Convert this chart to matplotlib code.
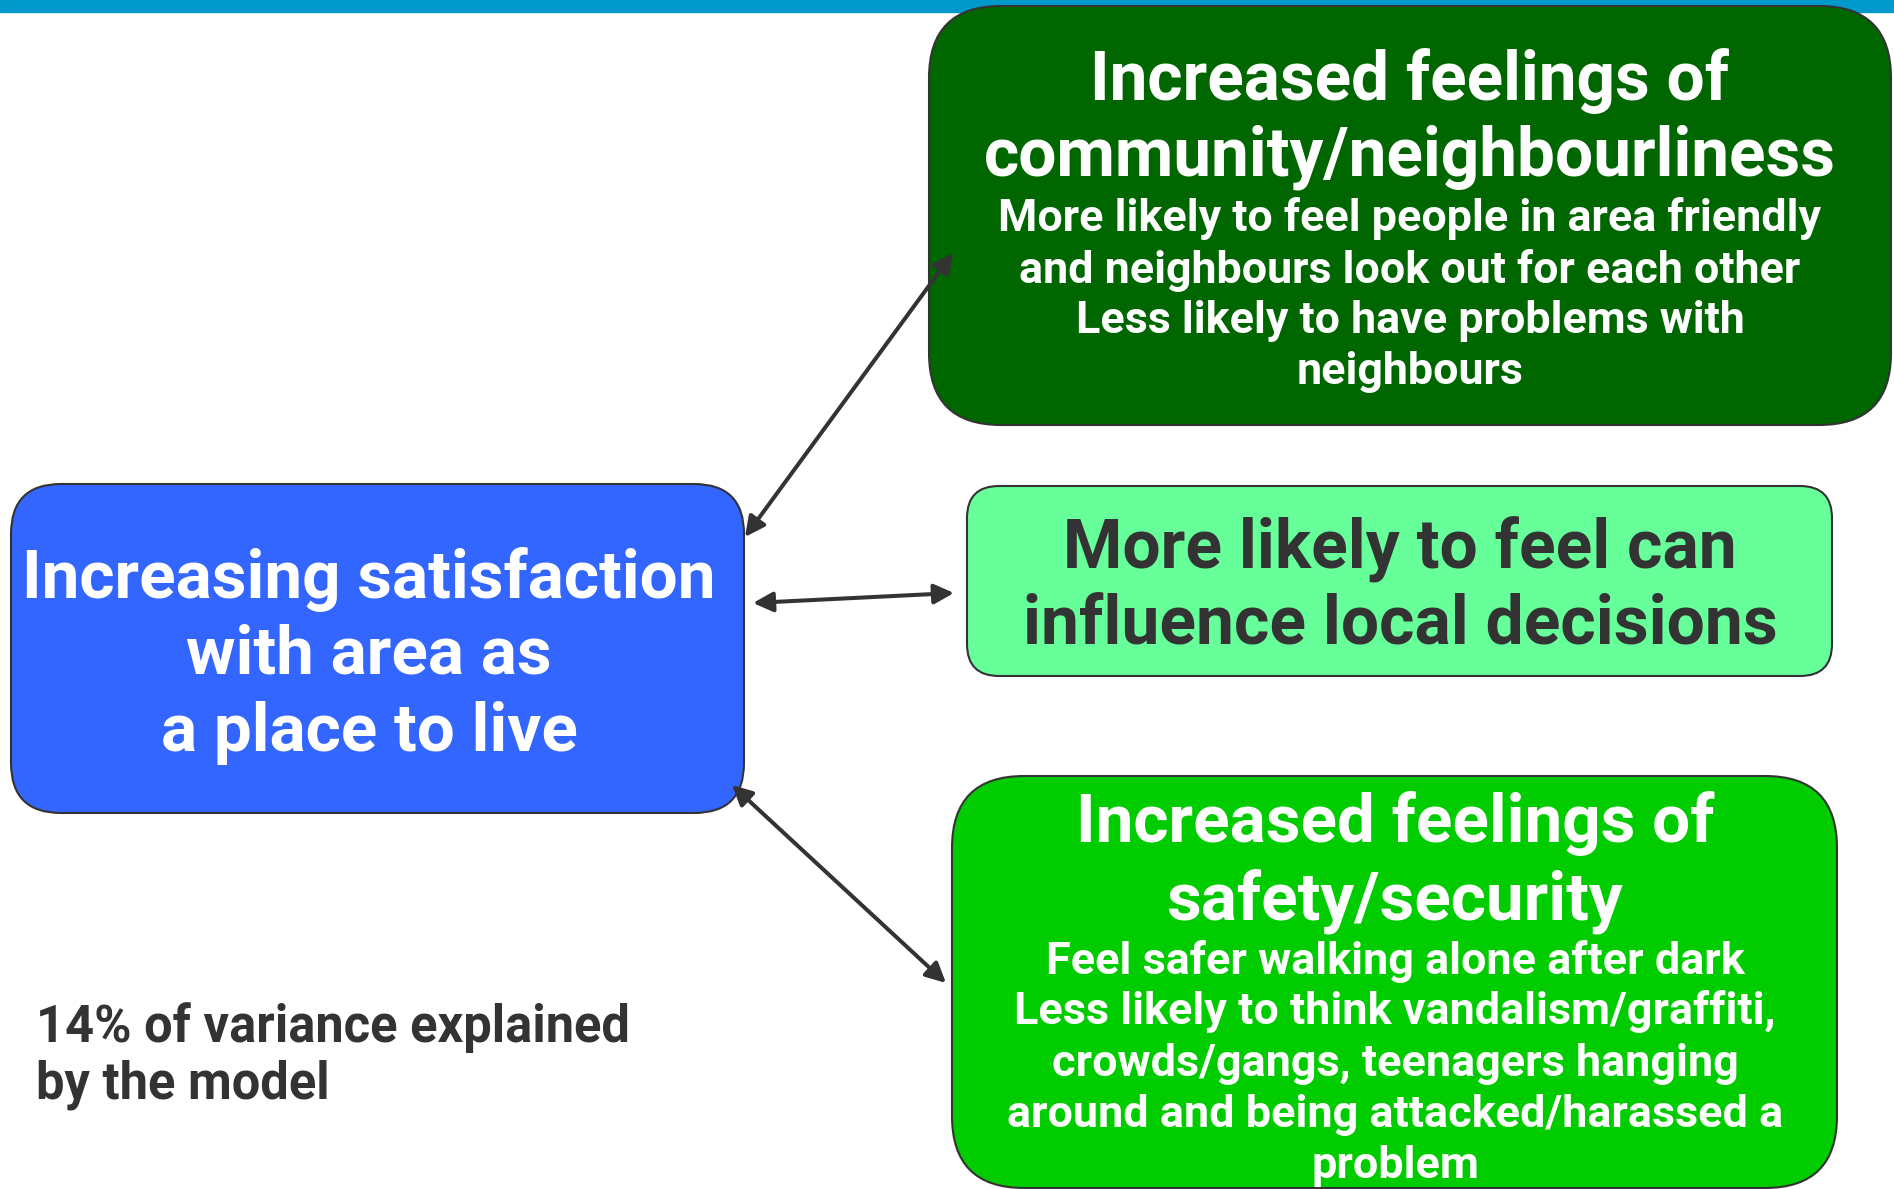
import matplotlib
matplotlib.use("Agg")
import matplotlib.pyplot as plt
from matplotlib.patches import FancyBboxPatch, Rectangle
from matplotlib import font_manager
from matplotlib.font_manager import FontProperties

# text content of the diagram
centre_lines = ["Increasing satisfaction", "with area as", "a place to live"]
community_title = ["Increased feelings of", "community/neighbourliness"]
community_sub = ["More likely to feel people in area friendly",
                 "and neighbours look out for each other",
                 "Less likely to have problems with",
                 "neighbours"]
influence_lines = ["More likely to feel can", "influence local decisions"]
safety_title = ["Increased feelings of", "safety/security"]
safety_sub = ["Feel safer walking alone after dark",
              "Less likely to think vandalism/graffiti,",
              "crowds/gangs, teenagers hanging",
              "around and being attacked/harassed a",
              "problem"]
note_lines = ["14% of variance explained", "by the model"]

# narrow font if installed, otherwise Roboto
try:
    font_manager.findfont(FontProperties(family="Liberation Sans Narrow", weight="bold"),
                          fallback_to_default=False)
    fam = "Liberation Sans Narrow"
except Exception:
    fam = "Roboto"

W, H = 1894, 1189
fig = plt.figure(figsize=(W / 100, H / 100), dpi=100)
ax = fig.add_axes([0, 0, 1, 1])
ax.set_xlim(0, W)
ax.set_ylim(H, 0)
ax.axis("off")
renderer = fig.canvas.get_renderer()

edge = "#333333"

# blue strip along the top
ax.add_patch(Rectangle((0, 0), W, 12, color="#0099CC", zorder=1))


def box(x0, y0, x1, y1, r, color):
    p = FancyBboxPatch((x0, y0), x1 - x0, y1 - y0,
                       boxstyle="round,pad=0,rounding_size=%d" % r,
                       facecolor=color, edgecolor=edge, lw=1.5, zorder=2)
    ax.add_patch(p)


box(929, 6, 1891, 425, 72, "#006600")
box(967, 486, 1832, 676, 32, "#66FF99")
box(11, 484, 744, 813, 50, "#3366FF")
box(952, 776, 1837, 1188, 72, "#00CC00")


def fit_size(txt, width):
    # font size giving the widest line the width seen in the picture
    t = ax.text(0, 0, max(txt, key=len), fontsize=40, fontweight="bold", family=fam)
    w = t.get_window_extent(renderer).width
    t.remove()
    return 40 * width / w


def lines(x, ys, txt, width, color, ha="center", fitline=None):
    size = fit_size([fitline] if fitline else txt, width)
    for y, t in zip(ys, txt):
        ax.text(x, y, t, ha=ha, va="baseline", fontsize=size,
                fontweight="bold", color=color, family=fam, zorder=3)


lines(1410, [100, 176], community_title, 852, "white", fitline=community_title[1])
lines(1410, [231, 283, 333, 384], community_sub, 823, "white", fitline=community_sub[0])
lines(1400, [568, 644], influence_lines, 754, "#333333", fitline=influence_lines[1])
lines(369, [598, 674, 751], centre_lines, 692, "white", fitline=centre_lines[0])
lines(1395, [842, 919], safety_title, 637, "white", fitline=safety_title[0])
lines(1395, [974, 1024, 1076, 1127, 1178], safety_sub, 776, "white", fitline=safety_sub[3])
lines(36, [1042, 1098], note_lines, 594, "#333333", ha="left", fitline=note_lines[0])

# double headed arrows
arrows = [((745, 537), (953, 253)),
          ((753, 603), (954, 593)),
          ((732, 785), (946, 983))]
for a, b in arrows:
    ax.annotate("", xy=b, xytext=a,
                arrowprops=dict(arrowstyle="<|-|>", color=edge, lw=2.9,
                                mutation_scale=30, shrinkA=0, shrinkB=0),
                zorder=4)

fig.savefig("out.png", dpi=100)
